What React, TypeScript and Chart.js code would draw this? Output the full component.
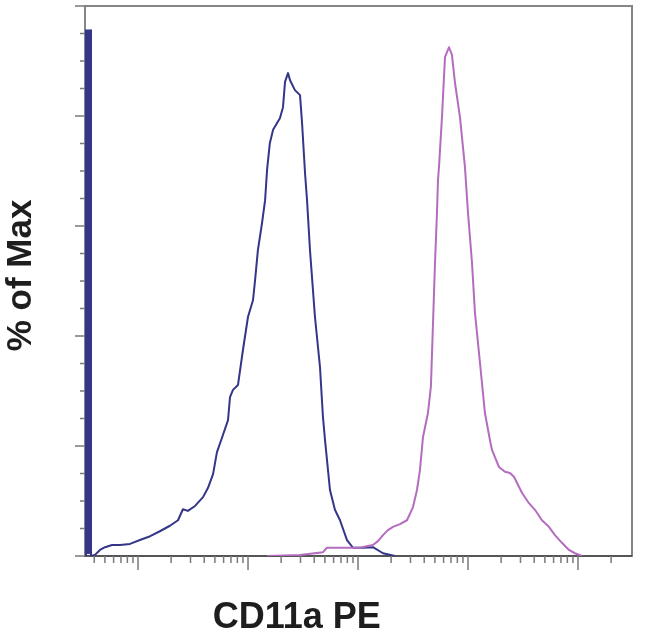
import React, { useEffect, useRef } from "react";
import { Chart, registerables } from "chart.js";

Chart.register(...registerables);

// Fluorescence intensity (CD11a PE, log scale) and % of Max
const blueIntensity = [3.366, 3.366, 3.437, 3.510, 3.584, 3.660, 3.737, 4.06, 4.51, 5.01, 5.80, 6.86, 8.45, 10.4, 12.9, 15.8, 19.5, 23.1, 25.6, 28.4, 33.0, 39.0, 43.3, 48.1, 52.2, 58.0, 65.8, 68.6, 73.0, 81.1, 90.0, 100, 111, 116, 123, 134, 143, 149, 158, 169, 195, 208, 217, 231, 241, 267, 297, 310, 330, 344, 366, 406, 451, 480, 501, 556, 617, 686, 794, 900, 1109, 1368, 1687, 2168];
const bluePercent = [0, 95.6, 0.5, 95.6, 0.5, 95.6, 0, 0.2, 1.1, 1.6, 2.0, 2.0, 2.2, 2.9, 3.6, 4.5, 5.5, 6.5, 8.5, 8.2, 9.1, 10.7, 12.4, 14.9, 18.9, 21.5, 24.7, 28.9, 30.2, 31.1, 37.5, 43.5, 46.5, 50.2, 55.6, 60.5, 64.7, 70.2, 75.1, 77.5, 79.6, 81.6, 86.2, 87.8, 86.5, 84.7, 83.8, 78.7, 69.6, 64.7, 55.6, 43.5, 34.4, 25.3, 21.1, 12.0, 8.4, 6.5, 2.9, 1.5, 1.5, 1.6, 0.5, 0];

const pinkIntensity = [149, 297, 480, 522, 686, 845, 1042, 1231, 1368, 1518, 1687, 1871, 2079, 2405, 2786, 3162, 3436, 3656, 3896, 4325, 4603, 4800, 5012, 5224, 5335, 5448, 5798, 6177, 6714, 7145, 7620, 8452, 9382, 9996, 10873, 11570, 12850, 14250, 15830, 16520, 19100, 21680, 24050, 26170, 30930, 35800, 40620, 46990, 54430, 61700, 71420, 82730, 93760, 108700];
const pinkPercent = [0, 0.2, 0.7, 1.5, 1.5, 1.5, 1.5, 1.8, 2.0, 2.7, 3.8, 4.7, 5.3, 5.8, 6.5, 8.9, 12.0, 15.6, 21.6, 26.0, 30.9, 42.0, 53.3, 62.4, 68.4, 70.7, 79.8, 90.7, 92.5, 91.1, 86.0, 79.8, 70.7, 62.4, 53.3, 44.2, 35.1, 26.0, 21.1, 19.3, 16.2, 15.3, 15.1, 14.4, 11.5, 9.6, 8.4, 6.5, 5.3, 3.8, 2.4, 1.1, 0.5, 0];

const xMin = 3.296;
const xMax = 309700;
const xMajorTicks = [10, 100, 1000, 10000, 100000];
const xMinorTicks = [4, 5, 6, 7, 8, 9, 20, 30, 40, 50, 60, 70, 80, 90, 200, 300, 400, 500, 600, 700, 800, 900, 2000, 3000, 4000, 5000, 6000, 7000, 8000, 9000, 20000, 30000, 40000, 50000, 60000, 70000, 80000, 90000, 200000];
const yMajorTicks = [0, 20, 40, 60, 80, 100];
const yMinorTicks = [5, 10, 15, 25, 30, 35, 45, 50, 55, 65, 70, 75, 85, 90, 95];

const xTitle = "CD11a PE";
const yTitle = "% of Max";

const toPoints = (xs: number[], ys: number[]) => xs.map((x, i) => ({ x, y: ys[i] }));

const framePlugin = {
  id: "flowFrame",
  beforeDatasetsDraw(chart: any) {
    const { ctx, chartArea: a, scales } = chart;
    ctx.save();
    ctx.lineWidth = 2;
    ctx.strokeStyle = "#858585";
    ctx.strokeRect(a.left, a.top, a.right - a.left, a.bottom - a.top);
    ctx.strokeStyle = "#555555";
    ctx.beginPath();
    ctx.moveTo(a.left, a.bottom);
    ctx.lineTo(a.right, a.bottom);
    ctx.stroke();
    ctx.strokeStyle = "#7a7a7a";
    ctx.lineWidth = 1.5;
    const xs = scales.x;
    const ys = scales.y;
    ctx.beginPath();
    xMajorTicks.forEach((v) => {
      const p = xs.getPixelForValue(v);
      ctx.moveTo(p, a.bottom);
      ctx.lineTo(p, a.bottom + 14);
    });
    xMinorTicks.forEach((v) => {
      const p = xs.getPixelForValue(v);
      ctx.moveTo(p, a.bottom);
      ctx.lineTo(p, a.bottom + 7);
    });
    yMajorTicks.forEach((v) => {
      const p = ys.getPixelForValue(v);
      ctx.moveTo(a.left, p);
      ctx.lineTo(a.left - 10, p);
    });
    yMinorTicks.forEach((v) => {
      const p = ys.getPixelForValue(v);
      ctx.moveTo(a.left, p);
      ctx.lineTo(a.left - 5, p);
    });
    ctx.stroke();
    ctx.restore();
  },
  afterDraw(chart: any) {
    const { ctx, chartArea: a } = chart;
    ctx.save();
    ctx.fillStyle = "#1e1e1e";
    ctx.textAlign = "center";
    ctx.textBaseline = "middle";
    ctx.font = "bold 36px 'Liberation Sans', Arial, sans-serif";
    ctx.fillText(xTitle, a.left + (a.right - a.left) * 0.387, a.bottom + 62);
    ctx.font = "bold 35px 'Liberation Sans', Arial, sans-serif";
    ctx.translate(a.left - 64, a.top + (a.bottom - a.top) * 0.49);
    ctx.rotate(-Math.PI / 2);
    ctx.fillText(yTitle, 0, 0);
    ctx.restore();
  },
};

export default function App() {
  const ref = useRef<HTMLCanvasElement | null>(null);
  useEffect(() => {
    if (!ref.current) return;
    const chart = new Chart(ref.current, {
      type: "line",
      data: {
        datasets: [
          {
            label: "CD11a PE",
            data: toPoints(pinkIntensity, pinkPercent),
            borderColor: "#b46cbf",
            borderWidth: 2,
            pointRadius: 0,
            tension: 0,
            fill: false,
            borderJoinStyle: "round",
          },
          {
            label: "Isotype",
            data: toPoints(blueIntensity, bluePercent),
            borderColor: "#35358a",
            borderWidth: 2,
            pointRadius: 0,
            tension: 0,
            fill: false,
            borderJoinStyle: "round",
          },
        ],
      },
      options: {
        animation: false,
        responsive: false,
        layout: { padding: { left: 85, right: 18, top: 6, bottom: 79 } },
        plugins: { legend: { display: false }, tooltip: { enabled: false }, title: { display: false } },
        scales: {
          x: { type: "logarithmic", min: xMin, max: xMax, display: false },
          y: { type: "linear", min: 0, max: 100, display: false },
        },
      },
      plugins: [framePlugin],
    });
    return () => chart.destroy();
  }, []);
  return (
    <div style={{ position: "absolute", left: 0, top: 0, width: 650, height: 635, background: "#fff" }}>
      <canvas ref={ref} width={650} height={635} />
    </div>
  );
}
